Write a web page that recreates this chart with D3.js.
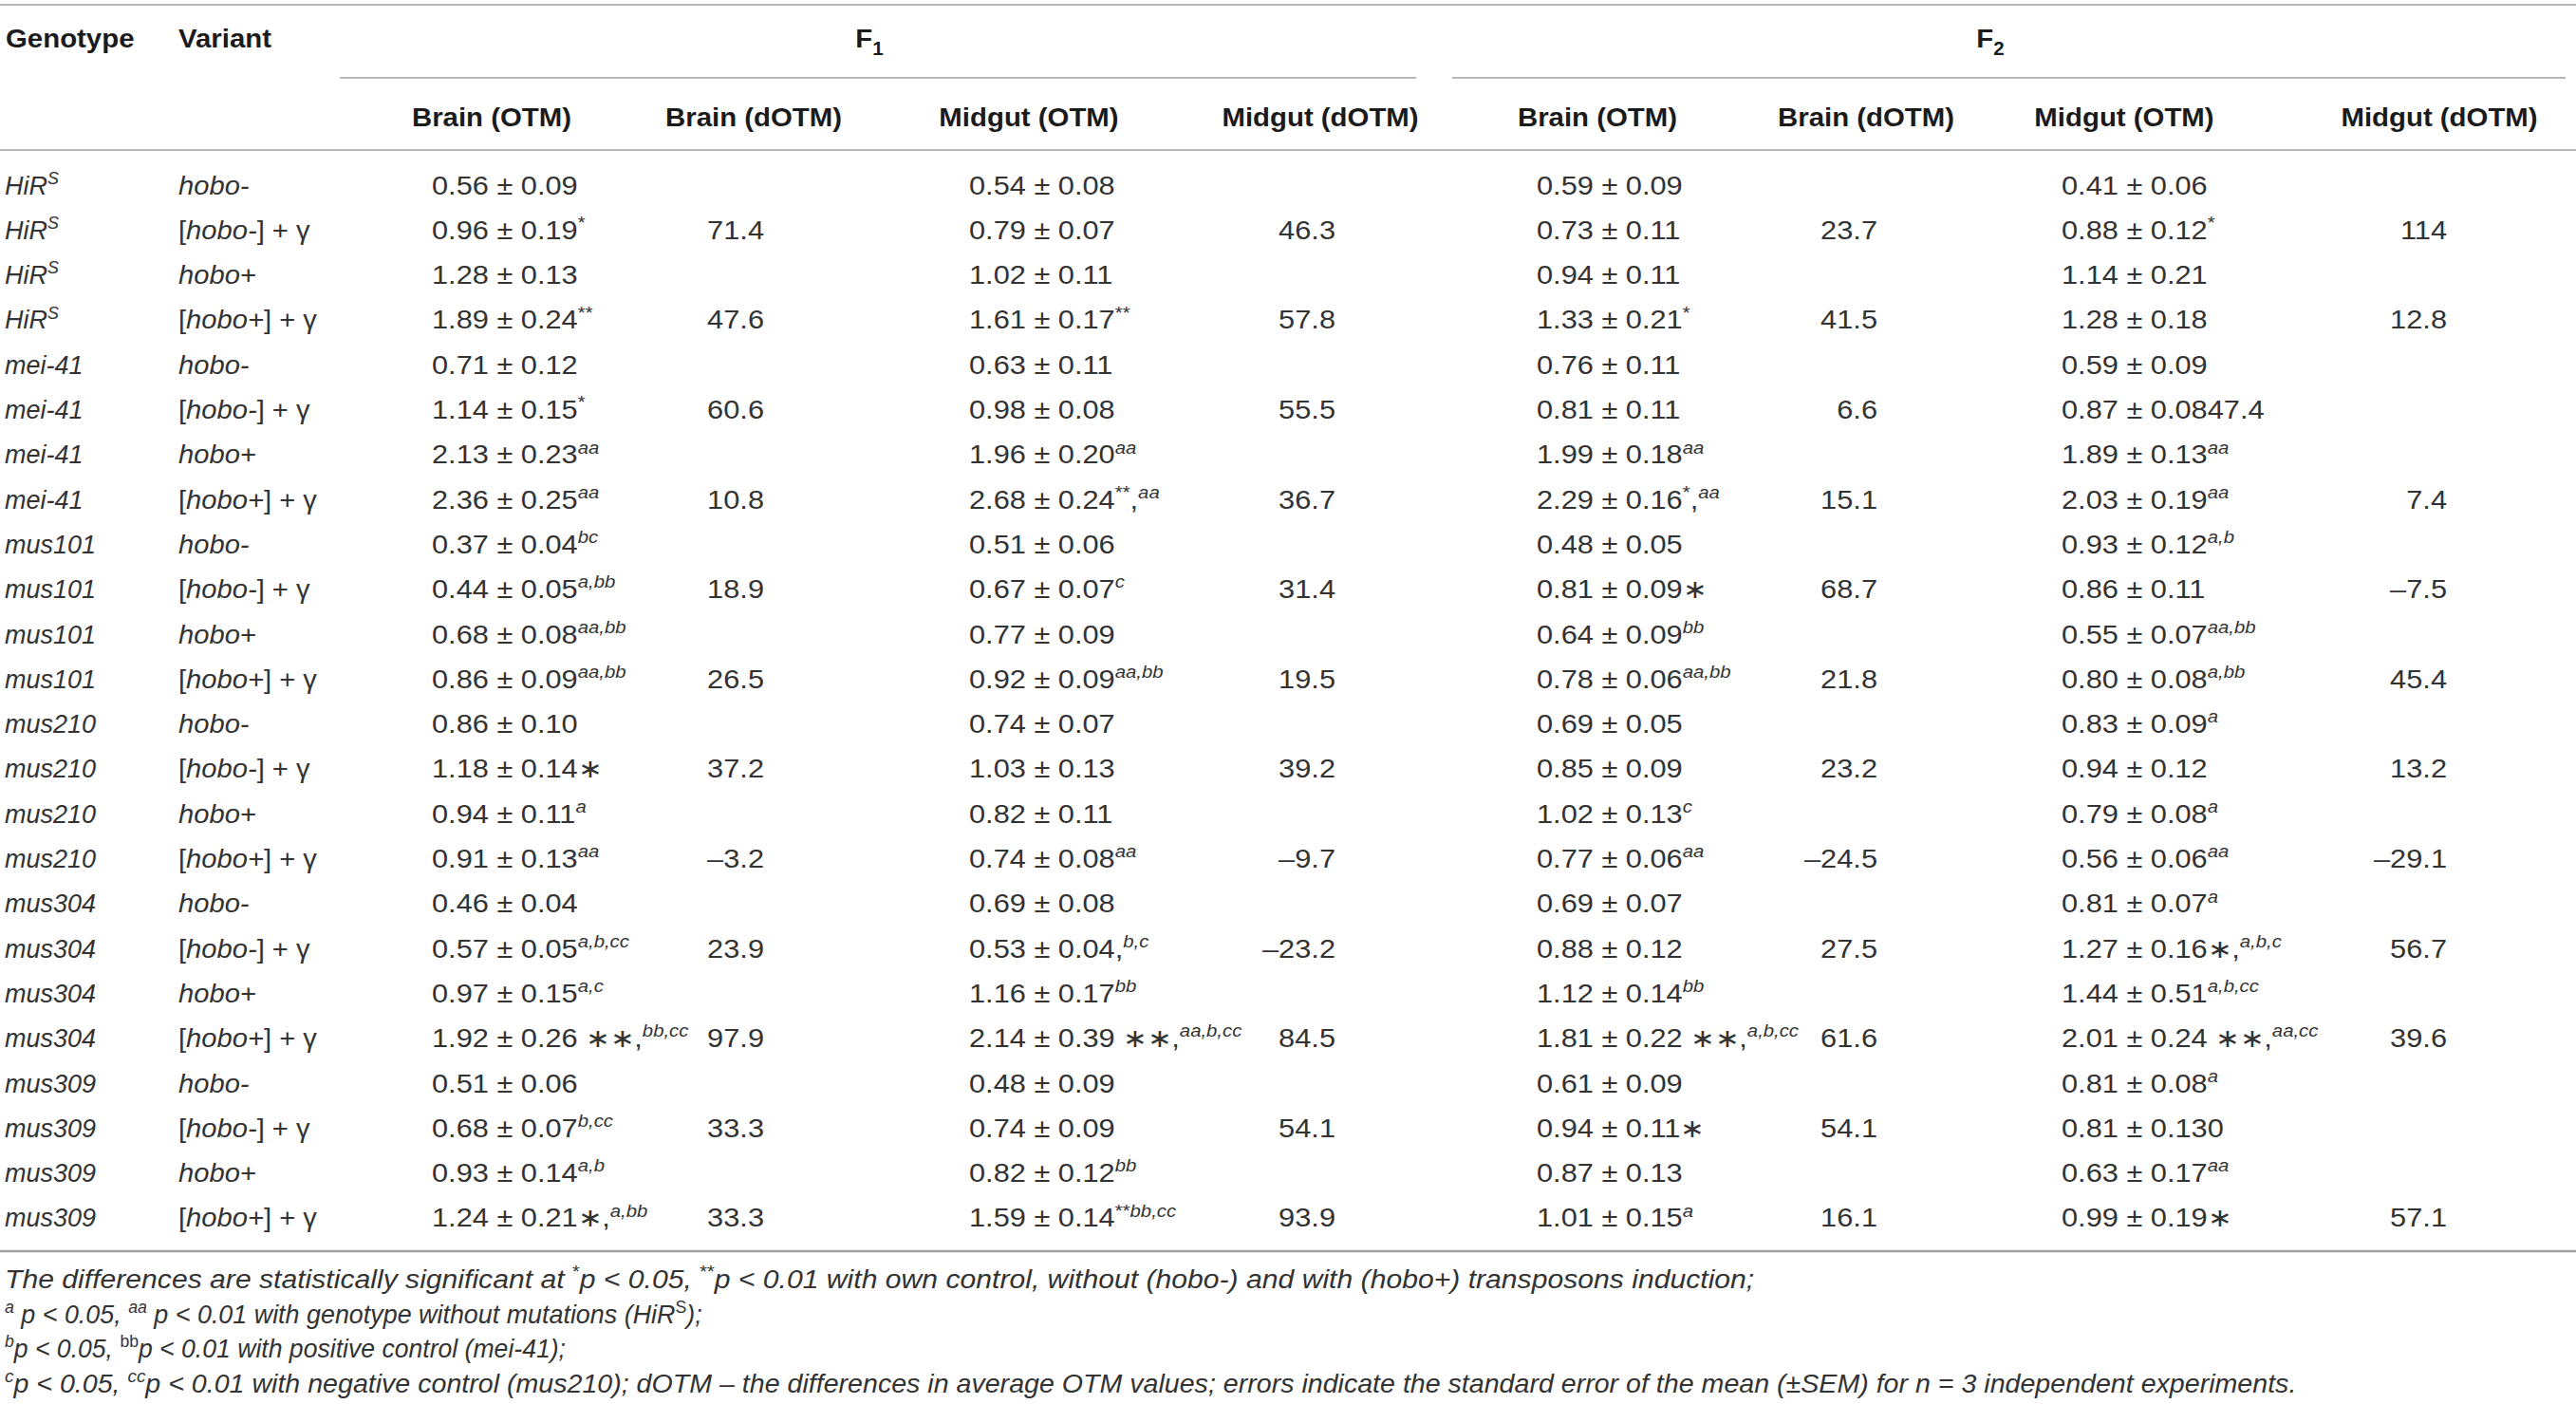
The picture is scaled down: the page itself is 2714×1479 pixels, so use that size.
<!DOCTYPE html>
<html><head><meta charset="utf-8">
<script src="https://cdn.jsdelivr.net/npm/d3@7/dist/d3.min.js"></script>
<style>html,body{margin:0;padding:0;background:#fff;} svg{display:block}</style>
</head><body><svg id="chart" width="2714" height="1479"></svg>
<script>
// ---- DATA ----
// markup: {x} = italic superscript, ^(x) = upright superscript, _x_ = italic, ~x~ = subscript
const genotypes = ["HiR{S}","HiR{S}","HiR{S}","HiR{S}","mei-41","mei-41","mei-41","mei-41",
  "mus101","mus101","mus101","mus101","mus210","mus210","mus210","mus210",
  "mus304","mus304","mus304","mus304","mus309","mus309","mus309","mus309"];
const variantCycle = ["_hobo-_","[_hobo-_] + γ","_hobo+_","[_hobo+_] + γ"];
const variants = genotypes.map((g,i)=>variantCycle[i%4]);
const f1BrainOTM = ["0.56 ± 0.09","0.96 ± 0.19^(*)","1.28 ± 0.13","1.89 ± 0.24^(**)",
  "0.71 ± 0.12","1.14 ± 0.15^(*)","2.13 ± 0.23{aa}","2.36 ± 0.25{aa}",
  "0.37 ± 0.04{bc}","0.44 ± 0.05{a,bb}","0.68 ± 0.08{aa,bb}","0.86 ± 0.09{aa,bb}",
  "0.86 ± 0.10","1.18 ± 0.14∗","0.94 ± 0.11{a}","0.91 ± 0.13{aa}",
  "0.46 ± 0.04","0.57 ± 0.05{a,b,cc}","0.97 ± 0.15{a,c}","1.92 ± 0.26 ∗∗,{bb,cc}",
  "0.51 ± 0.06","0.68 ± 0.07{b,cc}","0.93 ± 0.14{a,b}","1.24 ± 0.21∗,{a,bb}"];
const f1BrainD = ["","71.4","","47.6","","60.6","","10.8","","18.9","","26.5",
  "","37.2","","–3.2","","23.9","","97.9","","33.3","","33.3"];
const f1MidgutOTM = ["0.54 ± 0.08","0.79 ± 0.07","1.02 ± 0.11","1.61 ± 0.17^(**)",
  "0.63 ± 0.11","0.98 ± 0.08","1.96 ± 0.20{aa}","2.68 ± 0.24^(**),{aa}",
  "0.51 ± 0.06","0.67 ± 0.07{c}","0.77 ± 0.09","0.92 ± 0.09{aa,bb}",
  "0.74 ± 0.07","1.03 ± 0.13","0.82 ± 0.11","0.74 ± 0.08{aa}",
  "0.69 ± 0.08","0.53 ± 0.04,{b,c}","1.16 ± 0.17{bb}","2.14 ± 0.39 ∗∗,{aa,b,cc}",
  "0.48 ± 0.09","0.74 ± 0.09","0.82 ± 0.12{bb}","1.59 ± 0.14^(**){bb,cc}"];
const f1MidgutD = ["","46.3","","57.8","","55.5","","36.7","","31.4","","19.5",
  "","39.2","","–9.7","","–23.2","","84.5","","54.1","","93.9"];
const f2BrainOTM = ["0.59 ± 0.09","0.73 ± 0.11","0.94 ± 0.11","1.33 ± 0.21^(*)",
  "0.76 ± 0.11","0.81 ± 0.11","1.99 ± 0.18{aa}","2.29 ± 0.16^(*),{aa}",
  "0.48 ± 0.05","0.81 ± 0.09∗","0.64 ± 0.09{bb}","0.78 ± 0.06{aa,bb}",
  "0.69 ± 0.05","0.85 ± 0.09","1.02 ± 0.13{c}","0.77 ± 0.06{aa}",
  "0.69 ± 0.07","0.88 ± 0.12","1.12 ± 0.14{bb}","1.81 ± 0.22 ∗∗,{a,b,cc}",
  "0.61 ± 0.09","0.94 ± 0.11∗","0.87 ± 0.13","1.01 ± 0.15{a}"];
const f2BrainD = ["","23.7","","41.5","","6.6","","15.1","","68.7","","21.8",
  "","23.2","","–24.5","","27.5","","61.6","","54.1","","16.1"];
const f2MidgutOTM = ["0.41 ± 0.06","0.88 ± 0.12^(*)","1.14 ± 0.21","1.28 ± 0.18",
  "0.59 ± 0.09","0.87 ± 0.0847.4","1.89 ± 0.13{aa}","2.03 ± 0.19{aa}",
  "0.93 ± 0.12{a,b}","0.86 ± 0.11","0.55 ± 0.07{aa,bb}","0.80 ± 0.08{a,bb}",
  "0.83 ± 0.09{a}","0.94 ± 0.12","0.79 ± 0.08{a}","0.56 ± 0.06{aa}",
  "0.81 ± 0.07{a}","1.27 ± 0.16∗,{a,b,c}","1.44 ± 0.51{a,b,cc}","2.01 ± 0.24 ∗∗,{aa,cc}",
  "0.81 ± 0.08{a}","0.81 ± 0.130","0.63 ± 0.17{aa}","0.99 ± 0.19∗"];
const f2MidgutD = ["","114","","12.8","","","","7.4","","–7.5","","45.4",
  "","13.2","","–29.1","","56.7","","39.6","","","","57.1"];
const topHeaders = ["Genotype","Variant"];
const groupLabels = ["F~1~","F~2~"];
const colHeaders = ["Brain (OTM)","Brain (dOTM)","Midgut (OTM)","Midgut (dOTM)",
                    "Brain (OTM)","Brain (dOTM)","Midgut (OTM)","Midgut (dOTM)"];
const footnotes = [
  "The differences are statistically significant at ^(*)p < 0.05, ^(**)p < 0.01 with own control, without (hobo-) and with (hobo+) transposons induction;",
  "{a} p < 0.05, {aa} p < 0.01 with genotype without mutations (HiR^(S));",
  "{b}p < 0.05, ^(bb)p < 0.01 with positive control (mei-41);",
  "{c}p < 0.05, {cc}p < 0.01 with negative control (mus210); dOTM – the differences in average OTM values; errors indicate the standard error of the mean (±SEM) for n = 3 independent experiments."
];

// ---- LAYOUT ----
const W = 2714, H = 1479;
const svg = d3.select("#chart");
const FONT = "'Liberation Sans', Arial, Helvetica, sans-serif";
const FS = 27, SX = 1.14, HFS = 28, HSX = 1.05, FFS = 27.5, FSX = 1.04;
const footStretch = [1.054, 0.94, 0.93, 1.0];
const dataColor = "#333", headColor = "#1b1b1b", lineColor = "#a0a0a0";

const columns = [
  {data: genotypes, x: 5, anchor: "start", italic: true, sx: 1.0},
  {data: variants, x: 188, anchor: "start", italic: false, sx: 1.08},
  {data: f1BrainOTM, x: 455, anchor: "start", hx: 518},
  {data: f1BrainD, x: 805, anchor: "end", hx: 794},
  {data: f1MidgutOTM, x: 1021, anchor: "start", hx: 1084},
  {data: f1MidgutD, x: 1407, anchor: "end", hx: 1391},
  {data: f2BrainOTM, x: 1619, anchor: "start", hx: 1683},
  {data: f2BrainD, x: 1978, anchor: "end", hx: 1966},
  {data: f2MidgutOTM, x: 2172, anchor: "start", hx: 2238},
  {data: f2MidgutD, x: 2578, anchor: "end", hx: 2570}
];

const y = d3.scaleLinear().domain([0, genotypes.length - 1]).range([195, 195 + 23 * 47.3]);

const TOKEN = /(\{[^}]*\}|\^\([^)]*\)|_[^_]+_|~[^~]+~)/;
function rich(g, str, opt) {
  const t = g.append("text")
    .attr("transform", `translate(${opt.x},${opt.y}) scale(${opt.sx || 1},1)`)
    .attr("text-anchor", opt.anchor || "start")
    .attr("font-family", FONT)
    .attr("font-size", opt.size)
    .attr("font-weight", opt.weight || "normal")
    .attr("fill", opt.color);
  let shift = 0;
  str.split(TOKEN).filter(s => s !== "").forEach(p => {
    let txt = p, style = opt.italic ? "italic" : "normal", scale = 1, target = 0;
    if (p[0] === "{") { txt = p.slice(1, -1); style = "italic"; scale = 0.66; target = -0.4; }
    else if (p.startsWith("^(")) { txt = p.slice(2, -1); style = "normal"; scale = 0.66; target = -0.4; }
    else if (p.length > 2 && p[0] === "_" && p[p.length - 1] === "_") { txt = p.slice(1, -1); style = "italic"; }
    else if (p.length > 2 && p[0] === "~" && p[p.length - 1] === "~") { txt = p.slice(1, -1); scale = 0.7; target = 0.28; }
    const dy = target * opt.size - shift;
    shift = target * opt.size;
    t.append("tspan").attr("font-style", style).attr("font-size", opt.size * scale)
      .attr("dy", dy).text(txt);
  });
  return t;
}

// rules
const rules = [
  {x1: 0, x2: W, y: 5, w: 1.6},
  {x1: 358, x2: 1492, y: 82, w: 1.6},
  {x1: 1530, x2: 2703, y: 82, w: 1.6},
  {x1: 0, x2: W, y: 158, w: 1.6},
  {x1: 0, x2: W, y: 1318, w: 2.4}
];
svg.selectAll("line.rule").data(rules).join("line").attr("class", "rule")
  .attr("x1", d => d.x1).attr("x2", d => d.x2).attr("y1", d => d.y).attr("y2", d => d.y)
  .attr("stroke", lineColor).attr("stroke-width", d => d.w);

// headers
const gh = svg.append("g");
rich(gh, topHeaders[0], {x: 6, y: 50, size: HFS, weight: "bold", color: headColor, sx: HSX});
rich(gh, topHeaders[1], {x: 188, y: 50, size: HFS, weight: "bold", color: headColor, sx: HSX});
rich(gh, groupLabels[0], {x: 916, y: 50, size: HFS, weight: "bold", color: headColor, anchor: "middle", sx: HSX});
rich(gh, groupLabels[1], {x: 2097, y: 50, size: HFS, weight: "bold", color: headColor, anchor: "middle", sx: HSX});
colHeaders.forEach((h, i) => {
  rich(gh, h, {x: columns[i + 2].hx, y: 133, size: HFS, weight: "bold", color: headColor, anchor: "middle", sx: HSX});
});

// body
const gb = svg.append("g");
columns.forEach(col => {
  col.data.forEach((v, i) => {
    if (!v) return;
    rich(gb, v, {x: col.x, y: y(i) + 9.5, size: FS, color: dataColor, anchor: col.anchor,
                 italic: !!col.italic, sx: col.sx || SX});
  });
});

// footnotes
const gf = svg.append("g");
const fy = d3.scaleLinear().domain([0, footnotes.length - 1]).range([1357, 1467]);
footnotes.forEach((f, i) => {
  rich(gf, f, {x: 5, y: fy(i), size: FFS, color: dataColor, italic: true, sx: FSX * footStretch[i]});
});
</script></body></html>
